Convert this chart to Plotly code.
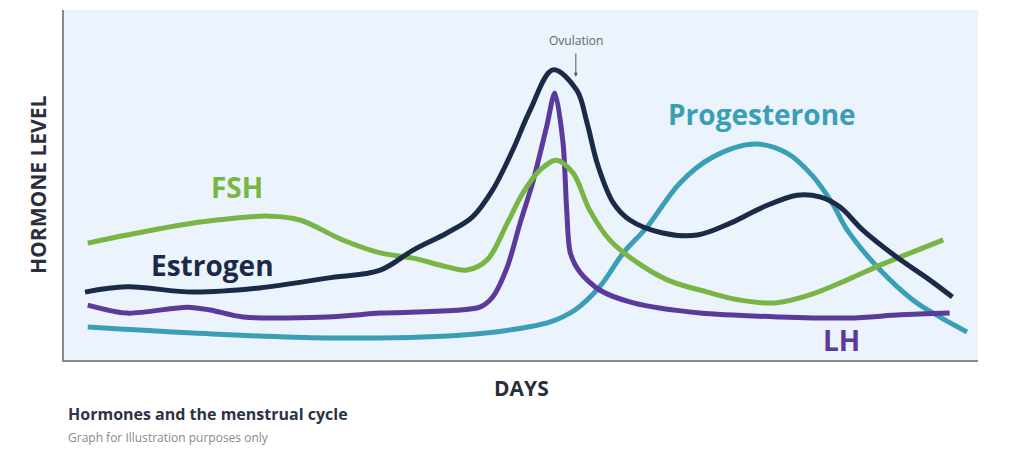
import plotly.graph_objects as go

# x: position in cycle (0-100), y: relative hormone level (0-100)
estrogen_x = [2.3, 6.9, 14.1, 21.4, 28.8, 34.6, 38.2, 41.9, 44.7, 46.9, 49.1, 51.0, 53.5, 56.1, 57.2, 58.4, 60.1, 61.9, 65.5, 69.3, 72.9, 76.5, 80.2, 82.7, 84.9, 87.4, 91.1, 94.7, 97.2]
estrogen_y = [19.4, 20.9, 19.4, 20.6, 23.4, 25.7, 31.4, 36.3, 40.9, 48.6, 60.0, 71.4, 82.9, 77.1, 68.0, 55.7, 44.9, 40.0, 36.3, 35.7, 39.1, 43.7, 47.1, 46.6, 43.7, 37.1, 29.4, 22.9, 18.0]

fsh_x = [2.6, 6.9, 14.9, 22.5, 25.8, 30.5, 34.6, 38.2, 41.9, 44.1, 46.3, 48.5, 50.2, 52.1, 53.9, 55.7, 57.5, 59.7, 62.3, 66.0, 70.4, 74.0, 77.8, 81.6, 85.7, 89.3, 92.9, 96.2]
fsh_y = [33.4, 35.7, 39.4, 41.1, 40.0, 34.3, 30.6, 29.1, 26.6, 25.7, 28.6, 39.1, 47.7, 54.3, 57.1, 53.4, 42.9, 34.3, 28.6, 22.9, 19.4, 17.1, 16.3, 18.6, 22.9, 27.1, 30.9, 34.3]

lh_x = [2.6, 6.9, 13.5, 16.0, 19.6, 28.8, 34.6, 45.5, 46.9, 48.5, 49.9, 51.3, 52.8, 53.7, 54.6, 55.0, 55.4, 56.5, 58.6, 62.3, 69.6, 78.3, 86.0, 91.5, 96.9]
lh_y = [15.7, 13.4, 15.1, 14.3, 12.3, 12.3, 13.4, 15.1, 18.0, 26.6, 39.1, 50.9, 66.6, 76.3, 62.0, 42.9, 30.6, 24.9, 20.0, 16.3, 13.4, 12.3, 12.0, 12.9, 13.4]

prog_x = [2.6, 14.1, 28.8, 43.3, 48.8, 53.2, 55.9, 58.6, 61.2, 63.8, 67.4, 71.0, 75.6, 79.1, 81.9, 84.1, 85.7, 89.3, 92.9, 95.8, 98.8]
prog_y = [9.4, 7.7, 6.3, 7.1, 8.6, 10.9, 14.3, 20.9, 30.6, 38.0, 50.6, 58.0, 61.7, 59.1, 52.6, 44.6, 37.1, 25.7, 17.1, 12.3, 8.0]

series_names = ["Progesterone", "LH", "FSH", "Estrogen"]
series_colors = ["#3a9fb6", "#5a3a9a", "#78b544", "#1b2a47"]
series_smoothing = [1.0, 0.8, 1.0, 1.0]

label_x = [76.4, 85.1, 18.9, 16.2]
label_y = [70.3, 5.7, 49.4, 27.1]

title_text = "Hormones and the menstrual cycle"
subtitle_text = "Graph for Illustration purposes only"
x_title = "DAYS"
y_title = "HORMONE LEVEL"
ovulation_text = "Ovulation"
ovulation_x = 56.0
ovulation_y_top = 88.0
ovulation_y_tip = 80.9

data = {
    "Progesterone": (prog_x, prog_y),
    "LH": (lh_x, lh_y),
    "FSH": (fsh_x, fsh_y),
    "Estrogen": (estrogen_x, estrogen_y),
}

FONT = "Open Sans"
fig = go.Figure()
for name, color, sm in zip(series_names, series_colors, series_smoothing):
    xs, ys = data[name]
    fig.add_trace(go.Scatter(
        x=xs, y=ys, mode="lines", name=name,
        line=dict(color=color, width=5, shape="spline", smoothing=sm),
        hoverinfo="skip", showlegend=False,
    ))

annotations = []
for name, color, lx, ly in zip(series_names, series_colors, label_x, label_y):
    annotations.append(dict(
        x=lx, y=ly, xref="x", yref="y", text=name, showarrow=False,
        font=dict(family=FONT, size=28, color=color, weight="bold"),
        xanchor="center", yanchor="middle",
    ))

annotations.append(dict(
    x=ovulation_x, y=ovulation_y_tip, xref="x", yref="y",
    ax=ovulation_x, ay=ovulation_y_top, axref="x", ayref="y",
    text="", showarrow=True, arrowhead=2, arrowsize=0.8, arrowwidth=1, arrowcolor="#555",
))
annotations.append(dict(
    x=ovulation_x, y=ovulation_y_top, xref="x", yref="y", text=ovulation_text,
    showarrow=False, yanchor="bottom", xanchor="center", yshift=1,
    font=dict(family=FONT, size=12, color="#666"),
))
annotations.append(dict(
    x=0.5, y=-0.08, xref="paper", yref="paper", text=x_title, showarrow=False,
    font=dict(family=FONT, size=21, color="#2a2f3a", weight="bold"),
    xanchor="center", yanchor="middle",
))
annotations.append(dict(
    x=-0.0285, y=0.5, xref="paper", yref="paper", text=y_title, showarrow=False,
    textangle=-90,
    font=dict(family=FONT, size=21, color="#2a2f3a", weight="bold"),
    xanchor="center", yanchor="middle",
))
annotations.append(dict(
    x=0.002, y=-0.154, xref="paper", yref="paper", text=title_text, showarrow=False,
    font=dict(family=FONT, size=16, color="#2c3345", weight="bold"),
    xanchor="left", yanchor="middle",
))
annotations.append(dict(
    x=0.002, y=-0.22, xref="paper", yref="paper", text=subtitle_text, showarrow=False,
    font=dict(family=FONT, size=12, color="#8a8a8a"),
    xanchor="left", yanchor="middle",
))

fig.update_layout(
    width=1024, height=461,
    margin=dict(l=64, r=46, t=10, b=101),
    paper_bgcolor="white",
    plot_bgcolor="#ebf3fc",
    annotations=annotations,
    xaxis=dict(range=[0, 100], showgrid=False, zeroline=False, showticklabels=False,
               ticks="", showline=True, linecolor="#8a8a8a", linewidth=2, fixedrange=True),
    yaxis=dict(range=[0, 100], showgrid=False, zeroline=False, showticklabels=False,
               ticks="", showline=True, linecolor="#8a8a8a", linewidth=2, fixedrange=True),
)

fig.write_html("out.html")
